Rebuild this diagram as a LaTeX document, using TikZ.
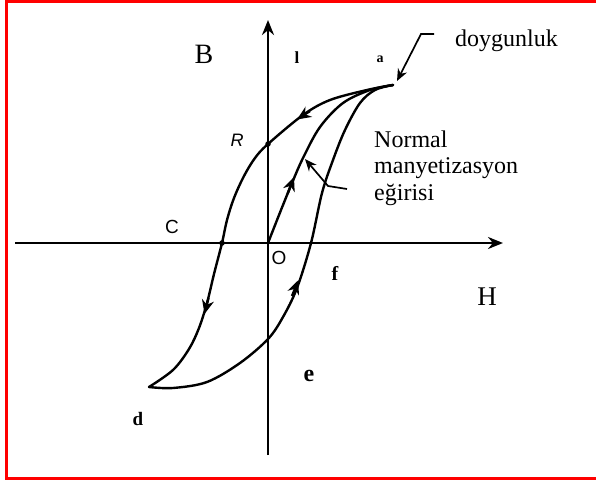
\documentclass[tikz,border=0pt]{standalone}
\usepackage{fontspec}
\setmainfont{Liberation Serif}
\setsansfont{Liberation Sans}
\usetikzlibrary{arrows.meta}
\begin{document}
\begin{tikzpicture}[x=1pt,y=-1pt,
  axis/.style={line width=2.6pt,-{Stealth[length=15pt,width=12pt]}},
  curve/.style={line width=2.4pt,line join=round,line cap=round},
  tipmark/.style={line width=2.4pt,-{Stealth[length=14pt,width=12pt]}},
  ptr/.style={line width=1.7pt,-{Stealth[length=12pt,width=10pt]}},
  dot/.style={circle,fill=black,inner sep=0pt,minimum size=5.5pt},
  lbl/.style={inner sep=0pt},
  txt/.style={inner sep=0pt,font=\fontsize{24}{26}\selectfont}]
\useasboundingbox (0,0) rectangle (596,481);
\draw[red,line width=3.3pt] (597,1.7) -- (6.2,1.7) -- (6.2,478.3) -- (597,478.3);
% axes
\coordinate (vb) at (268,455);
\coordinate (vt) at (268,20);
\coordinate (hl) at (15,243);
\coordinate (hr) at (503,243);
\draw[axis] (vb) -- (vt);
\draw[axis] (hl) -- (hr);
% key points
\coordinate (a) at (393,85);
\coordinate (R) at (268,144);
\coordinate (C) at (222,243);
\coordinate (d) at (149,387);
\coordinate (O) at (268,243);
\coordinate (Bn) at (268,339);
\coordinate (Hp) at (311,243);
% upper branch
\draw[curve] plot[smooth,tension=0.55] coordinates {(a) (367,90) (330,100) (303,115) (R) (255,158) (244,176) (234,198) (227,220) (C) (214,274) (207,303) (199,328) (189,349) (173,370) (d)};
% lower branch
\draw[curve] plot[smooth,tension=0.55] coordinates {(d) (173,388) (207,382) (240,363) (Bn) (283,317) (297,288) (Hp) (322,193) (333,160) (345,130) (360,103) (375,90) (a)};
% normal magnetization curve
\draw[curve] plot[smooth,tension=0.55] coordinates {(O) (281,210) (292,183) (303,158) (320,127) (343,103) (370,90) (a)};
% arrowheads on curves
\draw[tipmark] (310,111) -- (297,119.5);
\draw[tipmark] (208.5,298) -- (204.5,314);
\draw[tipmark] (292,296) -- (298.5,280);
\draw[tipmark] (287.5,194) -- (294,177);
% dots
\node[dot] (Rdot) at (R) {};
\node[dot] (Cdot) at (C) {};
% pointers
\coordinate (p1) at (434,34);
\coordinate (p2) at (421,34);
\coordinate (p3) at (397,81);
\draw[ptr] (p1) -- (p2) -- (p3);
\coordinate (q1) at (347,189);
\coordinate (q2) at (328,186);
\coordinate (q3) at (305,159);
\draw[ptr] (q1) -- (q2) -- (q3);
% labels
\node[lbl,font=\fontsize{28}{30}\selectfont] (lB) at (204,54) {B};
\node[lbl,font=\fontsize{27}{29}\selectfont] (lH) at (487,297) {H};
\node[lbl,font=\bfseries\fontsize{17}{19}\selectfont] (ll) at (297,58) {l};
\node[lbl,font=\bfseries\fontsize{14}{16}\selectfont] (la) at (380,59) {a};
\node[lbl,font=\sffamily\itshape\fontsize{18}{20}\selectfont] (lR) at (237,140) {R};
\node[lbl,font=\sffamily\fontsize{19}{21}\selectfont] (lC) at (172,227) {C};
\node[lbl,font=\sffamily\fontsize{19}{21}\selectfont] (lO) at (279,258) {O};
\node[lbl,font=\bfseries\fontsize{20}{22}\selectfont] (lf) at (335,273) {f};
\node[lbl,font=\bfseries\fontsize{24}{26}\selectfont] (le) at (309,376) {e};
\node[lbl,font=\bfseries\fontsize{19}{21}\selectfont] (ld) at (138,419) {d};
\node[txt,anchor=base west] (doy) at (455,47) {doygunluk};
\node[txt,anchor=base west] (n1) at (374,147) {Normal};
\node[txt,anchor=base west] (n2) at (374,173) {manyetizasyon};
\node[txt,anchor=base west] (n3) at (374,200) {eğirisi};
\end{tikzpicture}
\end{document}
